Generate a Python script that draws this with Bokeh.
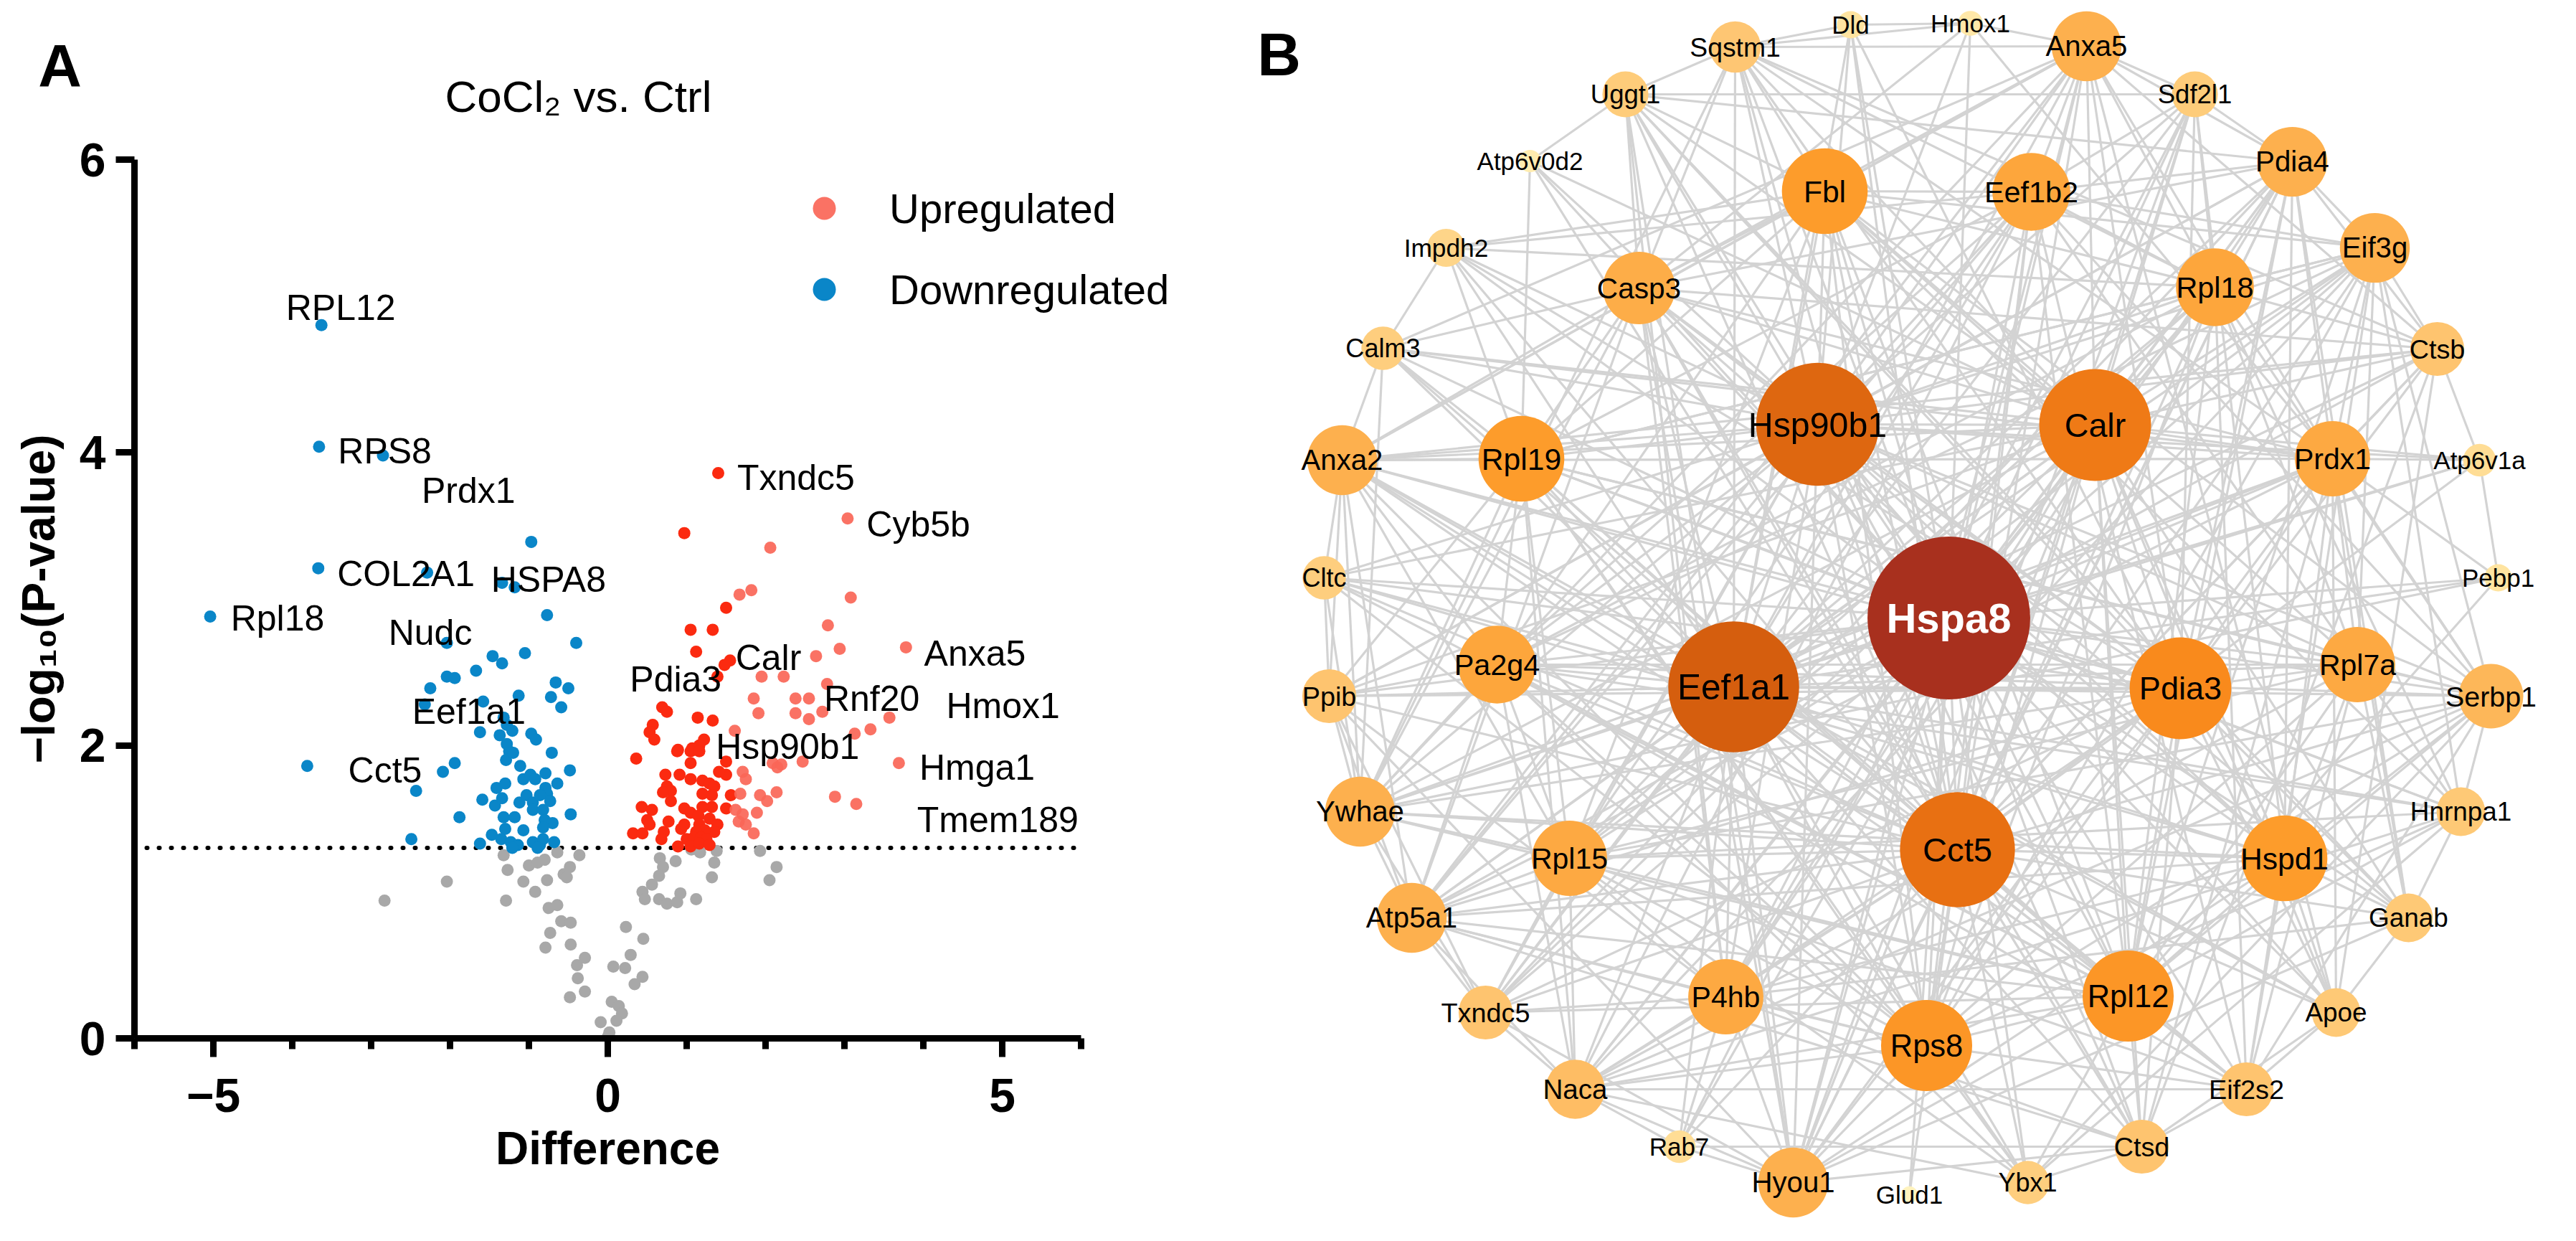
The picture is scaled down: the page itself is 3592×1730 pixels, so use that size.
import numpy as np
from bokeh.plotting import figure
from bokeh.layouts import row
from bokeh.models import (FixedTicker, Label, Legend, LegendItem, Range1d,
                          ColumnDataSource)
from bokeh.core.properties import value
from bokeh.embed import file_html
from bokeh.resources import INLINE

FONT = "Liberation Sans"

# ---------------- Panel A: volcano data ----------------
down_x = [-3.63, -3.66, -2.85, -0.97, -3.67, -2.29, -1.34, -1.18, -5.04, -0.77,
          -0.40, -2.04, -1.46, -1.34, -1.05, -1.67, -2.04, -1.94, -2.25, -2.32,
          -1.58, -1.13, -0.66, -0.50, -0.72, -0.59, -1.32, -1.28, -1.62, -1.37,
          -1.21, -0.97, -0.91, -1.28, -1.25, -0.71, -3.81, -1.94, -2.09, -1.29,
          -1.20, -1.11, -0.48, -2.43, -1.59, -1.41, -1.30, -1.07, -0.98, -0.92,
          -0.79, -0.64, -0.79, -0.77, -1.43, -1.34, -1.12, -1.03, -0.95, -0.86,
          -0.73, -0.47, -1.88, -1.32, -1.18, -0.95, -0.82, -0.80, -0.70, -1.30,
          -1.07, -0.82, -1.47, -1.62, -1.35, -1.23, -1.14, -0.95, -0.86, -0.82,
          -0.68, -0.89, -1.21, -2.49]
down_y = [4.87, 4.04, 3.98, 3.39, 3.21, 3.18, 3.11, 3.08, 2.88, 2.89,
          2.70, 2.70, 2.61, 2.56, 2.63, 2.51, 2.47, 2.46, 2.39, 2.28,
          2.30, 2.34, 2.43, 2.39, 2.33, 2.26, 2.19, 2.14, 2.09, 2.07,
          2.10, 2.08, 2.04, 2.01, 1.96, 1.95, 1.86, 1.88, 1.82, 1.90,
          1.95, 1.86, 1.83, 1.69, 1.63, 1.71, 1.74, 1.77, 1.80, 1.77,
          1.81, 1.74, 1.71, 1.67, 1.59, 1.64, 1.61, 1.66, 1.61, 1.66,
          1.62, 1.53, 1.51, 1.51, 1.51, 1.56, 1.56, 1.49, 1.47, 1.43,
          1.42, 1.44, 1.39, 1.33, 1.36, 1.34, 1.32, 1.34, 1.32, 1.36,
          1.34, 1.30, 1.30, 1.36]

# upregulated, moderate difference (bright red)
up_x = [1.40, 0.97, 1.50, 1.05, 1.33, 1.12, 1.55, 1.48, 1.39, 0.69,
        0.75, 1.14, 1.33, 0.57, 0.53, 0.59, 1.22, 1.16, 0.89, 1.07,
        0.36, 0.73, 0.75, 0.80, 0.70, 0.88, 1.05, 1.16, 1.05, 0.91,
        1.05, 1.20, 1.29, 1.35, 1.50, 1.50, 1.41, 1.20, 1.32, 1.56,
        0.80, 0.43, 0.56, 0.97, 1.05, 1.20, 1.32, 1.50, 0.50, 0.53,
        0.77, 0.93, 0.97, 1.15, 1.16, 1.29, 1.39, 1.35, 1.23, 1.12,
        0.32, 0.44, 0.71, 0.68, 1.00, 1.09, 1.18, 1.25, 0.89, 1.05,
        1.16, 1.29]
up_y = [3.86, 3.45, 2.94, 2.79, 2.79, 2.64, 2.58, 2.55, 2.47, 2.26,
        2.23, 2.19, 2.17, 2.14, 2.09, 2.04, 2.04, 2.00, 1.97, 1.98,
        1.91, 1.80, 1.72, 1.69, 1.68, 1.96, 1.96, 1.96, 1.88, 1.80,
        1.77, 1.76, 1.74, 1.72, 1.80, 1.89, 1.82, 1.67, 1.66, 1.66,
        1.62, 1.58, 1.56, 1.57, 1.54, 1.58, 1.58, 1.57, 1.49, 1.46,
        1.48, 1.43, 1.46, 1.52, 1.46, 1.50, 1.46, 1.41, 1.42, 1.41,
        1.40, 1.40, 1.41, 1.36, 1.36, 1.37, 1.37, 1.36, 1.31, 1.31,
        1.33, 1.32]

# upregulated, larger difference (light red)
up2_x = [3.04, 2.06, 1.67, 1.82, 3.08, 2.79, 2.94, 3.78, 2.64, 1.95,
         2.23, 2.78, 1.85, 2.38, 2.55, 1.91, 2.38, 2.55, 2.72, 3.57,
         3.33, 3.13, 1.61, 2.09, 2.15, 2.47, 3.69, 2.88, 3.15, 1.68,
         1.62, 1.71, 1.89, 1.93, 2.14, 2.02, 1.66, 1.75, 1.85, 1.71,
         1.75, 2.20]
up2_y = [3.55, 3.35, 3.03, 3.06, 3.01, 2.82, 2.66, 2.67, 2.61, 2.47,
         2.47, 2.42, 2.32, 2.32, 2.32, 2.22, 2.22, 2.18, 2.23, 2.19,
         2.11, 2.08, 2.10, 1.88, 1.85, 1.89, 1.88, 1.65, 1.60, 1.67,
         1.56, 1.53, 1.54, 1.66, 1.68, 1.62, 1.48, 1.46, 1.40, 1.82,
         1.77, 1.87]

# not significant
ns_x = [-1.32, -1.27, -1.29, -1.07, -0.92, -1.00, -0.89, -0.80, -0.77, -0.64,
        -0.36, -0.56, -0.48, -0.52, -0.75, -0.64, -0.59, -0.47, -0.73, -0.79,
        -0.47, -0.39, -0.29, -0.38, -0.48, -0.29, 0.23, 0.45, 0.29, 0.07,
        0.22, 0.44, 0.34, 0.05, 0.14, 0.18, 0.11, -0.09, 0.02, 0.00,
        0.44, 0.47, 0.56, 0.66, 0.70, 0.65, 0.86, 0.65, 0.75, 0.88,
        0.92, 1.12, 1.06, 1.17, 1.38, 1.35, 1.32, 1.93, 2.14, 2.05,
        -2.83, -2.04]
ns_y = [1.25, 1.15, 0.94, 1.07, 1.00, 1.18, 1.20, 1.22, 1.08, 1.27,
        1.25, 1.12, 1.17, 1.10, 0.89, 0.91, 0.80, 0.79, 0.72, 0.62,
        0.64, 0.50, 0.55, 0.41, 0.28, 0.32, 0.76, 0.68, 0.57, 0.49,
        0.48, 0.42, 0.37, 0.25, 0.22, 0.17, 0.12, 0.11, 0.04, 0.01,
        1.00, 0.95, 1.05, 1.23, 1.17, 1.11, 1.21, 0.95, 0.92, 0.93,
        0.99, 0.95, 1.29, 1.27, 1.28, 1.20, 1.10, 1.28, 1.17, 1.08,
        0.94, 1.07]

gene_labels = ["RPL12", "RPS8", "Prdx1", "Txndc5", "Cyb5b", "COL2A1", "HSPA8",
               "Rpl18", "Nudc", "Eef1a1", "Cct5", "Pdia3", "Calr", "Rnf20",
               "Hsp90b1", "Anxa5", "Hmox1", "Hmga1", "Tmem189"]
gene_label_x = [-4.08, -3.42, -2.36, 1.64, 3.28, -3.43, -1.48, -4.78, -2.78, -2.48,
                -3.29, 0.28, 1.62, 2.74, 1.37, 4.01, 4.29, 3.95, 3.92]
gene_label_y = [4.99, 4.01, 3.74, 3.83, 3.51, 3.17, 3.13, 2.87, 2.77, 2.23,
                1.83, 2.45, 2.60, 2.32, 1.99, 2.63, 2.27, 1.85, 1.49]

p_threshold = 1.3
x_bounds = (-6, 6)
y_bounds = (0, 6)
x_major = [-5, 0, 5]
x_minor = [-6, -4, -3, -2, -1, 1, 2, 3, 4, 6]
y_major = [0, 2, 4, 6]

BLUE = "#0A86C8"
RED = "#FB2A10"
LIGHT_RED = "#FA6657"
GRAY = "#A8A8A8"

# ---------------- Panel B: network data ----------------
node_names = ["Hspa8", "Eef1a1", "Hsp90b1", "Cct5", "Calr", "Pdia3", "Rpl12", "Rps8",
              "Fbl", "Rpl19", "Hspd1", "Eef1b2", "Rpl18", "Pa2g4", "Casp3", "Rpl15",
              "P4hb", "Rpl7a", "Prdx1", "Anxa5", "Pdia4", "Eif3g", "Anxa2", "Ywhae",
              "Atp5a1", "Hyou1", "Serbp1", "Naca", "Ctsb", "Txndc5", "Ppib", "Sqstm1",
              "Eif2s2", "Ctsd", "Hnrnpa1", "Ganab", "Apoe", "Uggt1", "Sdf2l1", "Calm3",
              "Cltc", "Ybx1", "Impdh2", "Rab7", "Atp6v1a", "Dld", "Pebp1", "Hmox1",
              "Atp6v0d2", "Glud1"]
# layout coordinates (x to the right, y downward)
node_x = [2725, 2425, 2542, 2737, 2929, 3048, 2975, 2694,
          2552, 2129, 3193, 2840, 3096, 2095, 2293, 2196,
          2414, 3295, 3260, 2917, 3204, 3319, 1879, 1904,
          1976, 2508, 3481, 2204, 3406, 2079, 1861, 2427,
          3140, 2994, 3439, 3366, 3265, 2274, 3068, 1936,
          1854, 2835, 2024, 2349, 3465, 2588, 3491, 2755,
          2141, 2670]
node_y = [869, 965, 599, 1192, 600, 967, 1396, 1465,
          274, 647, 1204, 275, 408, 934, 409, 1204,
          1397, 934, 647, 72, 233, 353, 649, 1139,
          1287, 1656, 978, 1526, 494, 1419, 978, 73,
          1526, 1606, 1139, 1287, 1419, 139, 139, 493,
          813, 1656, 353, 1606, 649, 42, 813, 40,
          232, 1673]
node_degree = [57, 45, 42, 39, 37, 34, 30, 30,
               28, 28, 28, 25, 25, 25, 23, 24,
               24, 24, 24, 22, 22, 22, 22, 22,
               22, 22, 20, 18, 16, 16, 16, 15,
               16, 16, 14, 14, 14, 13, 13, 12,
               12, 12, 10, 8, 8, 6, 6, 5,
               4, 2]

links = {
    "Hspa8": "Eef1a1 Hsp90b1 Cct5 Calr Pdia3 Rpl12 Rps8 Fbl Rpl19 Hspd1 Eef1b2 Rpl18 Pa2g4 Casp3 Rpl15 P4hb Rpl7a Prdx1 Anxa5 Pdia4 Eif3g Anxa2 Ywhae Atp5a1 Hyou1 Serbp1 Naca Ctsb Txndc5 Ppib Sqstm1 Eif2s2 Ctsd Hnrnpa1 Ganab Apoe Uggt1 Sdf2l1 Calm3 Cltc Ybx1 Impdh2 Rab7 Atp6v1a Dld Pebp1 Hmox1 Atp6v0d2 Glud1",
    "Eef1a1": "Hsp90b1 Cct5 Calr Pdia3 Rpl12 Rps8 Fbl Rpl19 Hspd1 Eef1b2 Rpl18 Pa2g4 Casp3 Rpl15 P4hb Rpl7a Prdx1",
    "Hsp90b1": "Cct5 Calr Pdia3 Rpl12 Rps8 Fbl Rpl19 Hspd1 Eef1b2 Rpl18 Pa2g4 Casp3 Rpl15 P4hb Rpl7a Prdx1",
    "Cct5": "Calr Pdia3 Rpl12 Rps8 Fbl Rpl19 Hspd1 Eef1b2 Rpl18 Pa2g4 Casp3 Rpl15 P4hb Prdx1",
    "Calr": "Pdia3 Rpl12 Rps8 Hspd1 Casp3 P4hb Prdx1 Rpl18 Fbl",
    "Pdia3": "Rpl12 Rps8 Hspd1 P4hb Prdx1 Casp3 Rpl7a",
    "Rpl12": "Rps8 Fbl Rpl19 Eef1b2 Rpl18 Pa2g4 Rpl15 Rpl7a Hspd1",
    "Rps8": "Fbl Rpl19 Eef1b2 Rpl18 Pa2g4 Rpl15 Rpl7a P4hb",
    "Fbl": "Rpl19 Eef1b2 Rpl18 Pa2g4 Casp3 Rpl15 Rpl7a",
    "Rpl19": "Eef1b2 Rpl18 Pa2g4 Rpl15 Rpl7a Casp3",
    "Hspd1": "Casp3 P4hb Prdx1 Rpl7a",
    "Eef1b2": "Rpl18 Pa2g4 Rpl15 Rpl7a",
    "Rpl18": "Pa2g4 Rpl15 Rpl7a",
    "Pa2g4": "Rpl15 Rpl7a",
    "Casp3": "Prdx1 P4hb",
    "Rpl15": "Rpl7a P4hb",
    "Prdx1": "Rpl7a",
    "Anxa5": "Hmox1 Sdf2l1 Pdia4 Eef1b2 Fbl Casp3 Anxa2 Calr Hsp90b1 Cct5 Eef1a1 Prdx1 Rpl18 Apoe Calm3 Ctsb Sqstm1 Pdia3 Ywhae Hyou1 Atp5a1",
    "Pdia4": "Sdf2l1 Eif3g Pdia3 Calr Hsp90b1 P4hb Hyou1 Uggt1 Txndc5 Ppib Ganab Cct5 Rpl18 Prdx1 Eef1b2 Hspd1 Ctsb Casp3 Eef1a1 Rpl12",
    "Eif3g": "Ctsb Rpl18 Eef1b2 Eef1a1 Rpl12 Rps8 Rpl19 Rpl15 Rpl7a Eif2s2 Serbp1 Fbl Pa2g4 Cct5 Hsp90b1 Prdx1 Calr Naca Hnrnpa1",
    "Anxa2": "Calm3 Cltc Rpl19 Ywhae Eef1a1 Hsp90b1 Calr Cct5 Casp3 Pa2g4 Ppib Atp5a1 Prdx1 Apoe Rpl15 Pdia3 Rpl12 Rps8 Ctsb Fbl",
    "Ywhae": "Ppib Atp5a1 Pa2g4 Eef1a1 Hsp90b1 Cct5 Calr Casp3 Sqstm1 Calm3 Rpl15 Prdx1 Hspd1 Pdia3 Rpl19 Cltc Txndc5 Pebp1 Rpl12",
    "Atp5a1": "Txndc5 Rpl15 Eef1a1 Hspd1 Hsp90b1 Cct5 Calr Pdia3 Ppib Prdx1 P4hb Rpl12 Rps8 Pa2g4 Casp3 Naca Eef1b2 Ctsd",
    "Hyou1": "Rab7 Naca P4hb Hsp90b1 Calr Pdia3 Cct5 Rpl12 Rps8 Hspd1 Txndc5 Uggt1 Sdf2l1 Ganab Ppib Ctsd Eef1a1 Casp3 Prdx1",
    "Serbp1": "Rpl7a Hnrnpa1 Rpl12 Rps8 Rpl18 Rpl19 Rpl15 Eef1a1 Eef1b2 Fbl Pa2g4 Ybx1 Eif2s2 Hspd1 Cct5 Hsp90b1 Naca Prdx1",
    "Naca": "Txndc5 Rab7 Eef1a1 Rps8 Rpl12 Rpl15 Rpl19 Pa2g4 P4hb Eif2s2 Ybx1 Hnrnpa1 Rpl18 Rpl7a Cct5 Eef1b2",
    "Ctsb": "Atp6v1a Prdx1 Ctsd Apoe Casp3 Calr Hsp90b1 Rpl18 Sqstm1 Cct5 Eef1a1 Pdia3",
    "Txndc5": "P4hb Pdia3 Calr Hsp90b1 Sdf2l1 Ppib Rpl15 Cct5 Eef1a1 Rpl12",
    "Ppib": "Cltc Pa2g4 Calr Pdia3 Hsp90b1 P4hb Cct5 Eef1a1 Rpl19",
    "Sqstm1": "Uggt1 Dld Hmox1 Casp3 Hsp90b1 Fbl Calr Eef1a1 Prdx1 Rpl18 Pdia3 Cct5",
    "Eif2s2": "Eef1a1 Eef1b2 Rpl12 Rps8 Rpl7a Rpl18 Cct5 Hspd1 Ctsd Apoe Pa2g4 Rpl15",
    "Ctsd": "Apoe Rab7 Ybx1 Calr Pdia3 Casp3 P4hb Cct5 Rpl12 Hsp90b1 Eef1a1 Prdx1",
    "Hnrnpa1": "Ybx1 Eef1a1 Rpl12 Rps8 Rpl7a Rpl18 Rpl19 Rpl15 Fbl Pa2g4 Ganab",
    "Ganab": "Hsp90b1 Calr Pdia3 P4hb Uggt1 Hspd1 Cct5 Apoe Prdx1 Rpl7a",
    "Apoe": "Hspd1 Calr Prdx1 Hsp90b1 Cct5 Pdia3 Eef1a1",
    "Uggt1": "Atp6v0d2 Calr Pdia3 Hsp90b1 P4hb Casp3 Fbl Sdf2l1 Cct5",
    "Sdf2l1": "Calr Pdia3 Hsp90b1 P4hb Rpl18 Eef1b2 Cct5 Hspd1",
    "Calm3": "Impdh2 Rpl19 Casp3 Hsp90b1 Eef1a1 Calr Prdx1 Cct5",
    "Cltc": "Eef1a1 Hsp90b1 Cct5 Calr Pdia3 Rpl12 Rps8 Hspd1",
    "Ybx1": "Rps8 Rpl12 Eef1a1 Cct5 Rpl15 Pa2g4 Rpl19",
    "Impdh2": "Fbl Eef1b2 Hsp90b1 Cct5 Eef1a1 Rpl19 Rpl18 Pdia3",
    "Rab7": "Eef1a1 Cct5 P4hb Calr",
    "Atp6v1a": "Prdx1 Pebp1 Calr Cct5 Hsp90b1 Eef1a1",
    "Dld": "Hmox1 Hsp90b1 Pdia3 Eef1a1 Cct5",
    "Pebp1": "Prdx1 Eef1a1 Rpl12",
    "Hmox1": "Hsp90b1 Casp3 Prdx1",
    "Atp6v0d2": "Hsp90b1 Calr Rpl19 Cct5",
    "Glud1": "Cct5",
}

# ================= Panel A figure =================
WA, HA = 1672, 1714
# pixel placement of the axes box inside figure A
AX_L, AX_R, AX_T, AX_B = 187, 1507, 222, 1447
sx = (AX_R - AX_L) / (x_bounds[1] - x_bounds[0])
sy = (AX_B - AX_T) / (y_bounds[1] - y_bounds[0])
xr = Range1d(x_bounds[0] - AX_L / sx, x_bounds[1] + (WA - AX_R) / sx)
yr = Range1d(y_bounds[0] - (HA - AX_B) / sy, y_bounds[1] + AX_T / sy)

pA = figure(width=WA, height=HA, x_range=xr, y_range=yr,
            output_backend="svg", toolbar_location=None, min_border=0)
pA.grid.visible = False
pA.outline_line_color = None

pA.segment(x0=[x_bounds[0]], y0=[p_threshold], x1=[x_bounds[1]], y1=[p_threshold],
           line_color="black", line_width=6, line_dash="1 16", line_cap="round")

pA.scatter(ns_x, ns_y, size=17, fill_color=GRAY, line_color=None)
r_down = pA.scatter(down_x, down_y, size=17, fill_color=BLUE, line_color=None)
pA.scatter(up_x, up_y, size=17, fill_color=RED, line_color=None)
r_up = pA.scatter(up2_x, up2_y, size=17, fill_color=LIGHT_RED, fill_alpha=0.92,
                  line_color=None)

pA.text(x=gene_label_x, y=gene_label_y, text=gene_labels, text_font=value(FONT),
        text_font_size="50px", text_baseline="middle", text_align="left",
        text_color="black")

xa = pA.xaxis[0]
xa.ticker = FixedTicker(ticks=x_major, minor_ticks=x_minor)
xa.major_label_overrides = {-5: "\u22125", 0: "0", 5: "5"}
xa.fixed_location = y_bounds[0]
xa.bounds = x_bounds
ya = pA.yaxis[0]
ya.ticker = FixedTicker(ticks=y_major, minor_ticks=[])
ya.fixed_location = x_bounds[0]
ya.bounds = y_bounds
for ax in (xa, ya):
    ax.axis_line_width = 9
    ax.axis_line_color = "black"
    ax.major_tick_line_width = 9
    ax.minor_tick_line_width = 9
    ax.major_tick_out = 26
    ax.major_tick_in = 0
    ax.minor_tick_out = 15
    ax.minor_tick_in = 0
    ax.major_label_text_font = FONT
    ax.major_label_text_font_style = "bold"
    ax.major_label_text_font_size = "66px"
    ax.major_label_text_color = "black"
    ax.axis_label_text_font = FONT
    ax.axis_label_text_font_style = "bold"
    ax.axis_label_text_font_size = "64px"
    ax.axis_label_text_color = "black"
xa.axis_label = "Difference"
xa.major_label_standoff = 30
xa.axis_label_standoff = 12
ya.axis_label = "\u2212log\u2081\u2080(P-value)"
ya.major_label_standoff = 14
ya.axis_label_standoff = 18

# legend (screen offsets from the lower-left corner of figure A)
legend = Legend(items=[LegendItem(label="Upregulated", renderers=[r_up]),
                       LegendItem(label="Downregulated", renderers=[r_down])],
                location=(1109, 1271), glyph_width=80, glyph_height=80,
                spacing=33, padding=0, margin=0, label_standoff=51,
                label_text_font=FONT, label_text_font_size="58px",
                label_text_color="black", border_line_color=None,
                background_fill_alpha=0)
pA.add_layout(legend)

pA.add_layout(Label(x=83, y=HA - 91, x_units="screen", y_units="screen", text="A",
                    text_font=FONT, text_font_size="84px", text_font_style="bold",
                    text_align="center", text_baseline="middle", text_color="black"))
pA.add_layout(Label(x=806, y=HA - 134, x_units="screen", y_units="screen",
                    text="CoCl\u2082 vs. Ctrl", text_font=FONT, text_font_size="62px",
                    text_align="center", text_baseline="middle", text_color="black"))

# ================= Panel B figure =================
WB = 3576 - WA
B_LEFT = 8 + WA
pB = figure(width=WB, height=HA, x_range=Range1d(B_LEFT, B_LEFT + WB),
            y_range=Range1d(8 + HA, 8), x_axis_type=None, y_axis_type=None,
            output_backend="svg", toolbar_location=None, min_border=0)
pB.grid.visible = False
pB.outline_line_color = None

idx = {n: i for i, n in enumerate(node_names)}
edges = set()
for a, nb in links.items():
    for b in nb.split():
        if a in idx and b in idx and a != b:
            edges.add(tuple(sorted((a, b))))
edges = sorted(edges)
exs = [[node_x[idx[a]], node_x[idx[b]]] for a, b in edges]
eys = [[node_y[idx[a]], node_y[idx[b]]] for a, b in edges]
pB.multi_line(exs, eys, line_color="#D3D3D3", line_width=3.2)

stops_d = [2, 6, 12, 16, 22, 28, 34, 39, 45, 57]
stops_c = ["#FFF3BE", "#FFE4A0", "#FECE7E", "#FEC46F", "#FDB04E", "#FD9C2B",
           "#F98A1C", "#E87012", "#D55E0E", "#A8301E"]


def hex2rgb(h):
    return [int(h[i:i + 2], 16) for i in (1, 3, 5)]


def degree_color(d):
    rgbs = np.array([hex2rgb(c) for c in stops_c], dtype=float)
    r = [np.interp(d, stops_d, rgbs[:, k]) for k in range(3)]
    return "#%02X%02X%02X" % tuple(int(round(v)) for v in r)


radius = [8 + 1.85 * d for d in node_degree]
radius[4] = 78  # Calr drawn slightly larger than its colour class
colors = [degree_color(d) for d in node_degree]
fsz = ["%.1fpx" % max(35.0, 33 + 0.22 * (r - 16)) for r in radius]

src = ColumnDataSource(dict(x=node_x, y=node_y, size=[2 * r for r in radius],
                            color=colors, name=node_names, fs=fsz))
pB.scatter("x", "y", size="size", fill_color="color", line_color=None, source=src)

hub = max(range(len(node_names)), key=lambda i: node_degree[i])
others = [i for i in range(len(node_names)) if i != hub]
src_lab = ColumnDataSource(dict(x=[node_x[i] for i in others], y=[node_y[i] for i in others],
                                name=[node_names[i] for i in others],
                                fs=[fsz[i] for i in others]))
pB.text("x", "y", text="name", text_font_size="fs", text_font=value(FONT),
        text_align="center", text_baseline="middle", text_color="black", source=src_lab)
pB.text(x=[node_x[hub]], y=[node_y[hub]], text=[node_names[hub]], text_font=value(FONT),
        text_font_size="58px", text_font_style="bold", text_color="white",
        text_align="center", text_baseline="middle")

pB.add_layout(Label(x=1791, y=83, text="B", text_font=FONT, text_font_size="84px",
                    text_font_style="bold", text_align="center", text_baseline="middle",
                    text_color="black"))

layout = row(pA, pB)
open("out.html", "w").write(file_html(layout, INLINE))
